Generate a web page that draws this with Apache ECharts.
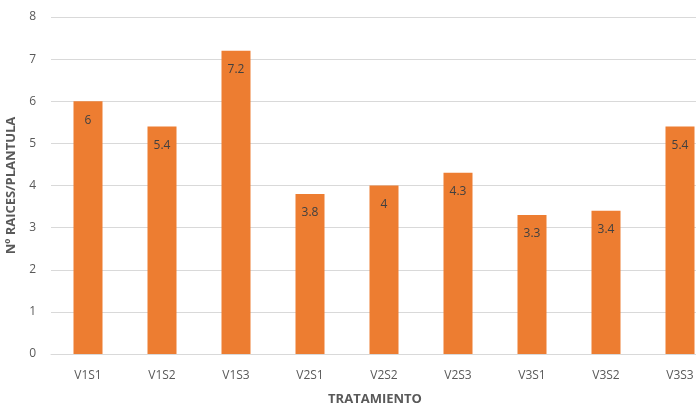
<!DOCTYPE html>
<html>
<head>
<meta charset="utf-8">
<script src="https://cdn.jsdelivr.net/npm/echarts@6/dist/echarts.min.js"></script>
<style>
  html, body { margin: 0; padding: 0; background: #fff; }
  #chart { width: 696px; height: 407px; }
</style>
</head>
<body>
<div id="chart"></div>
<script>
// Roots per seedling for each treatment
const categories = ['V1S1', 'V1S2', 'V1S3', 'V2S1', 'V2S2', 'V2S3', 'V3S1', 'V3S2', 'V3S3'];
const roots = [6, 5.4, 7.2, 3.8, 4, 4.3, 3.3, 3.4, 5.4];
const yTicks = [0, 1, 2, 3, 4, 5, 6, 7, 8];

const chart = echarts.init(document.getElementById('chart'));
chart.setOption({
  animation: false,
  backgroundColor: '#ffffff',
  textStyle: { fontFamily: 'Open Sans, Liberation Sans, sans-serif' },
  grid: { left: 51, top: 17, width: 666, height: 337, outerBoundsMode: 'none', containLabel: false },
  xAxis: {
    type: 'category',
    data: categories,
    name: 'TRATAMIENTO',
    nameLocation: 'middle',
    nameGap: 39,
    nameTextStyle: { color: '#595959', fontSize: 13, fontWeight: 'bold', padding: [0, 18, 0, 0] },
    axisLine: { lineStyle: { color: '#d9d9d9' } },
    axisTick: { show: false },
    axisLabel: { color: '#595959', fontSize: 12, margin: 16 }
  },
  yAxis: {
    type: 'value',
    min: yTicks[0],
    max: yTicks[yTicks.length - 1],
    interval: 1,
    name: 'Nº RAICES/PLANTULA',
    nameLocation: 'middle',
    nameGap: 29,
    nameRotate: 90,
    nameTextStyle: { color: '#595959', fontSize: 13, fontWeight: 'bold' },
    axisLine: { show: false },
    axisTick: { show: false },
    axisLabel: { color: '#595959', fontSize: 12, margin: 15 },
    splitLine: { lineStyle: { color: '#d9d9d9' } }
  },
  series: [{
    type: 'bar',
    data: roots,
    barWidth: 29,
    itemStyle: { color: '#ED7D31' },
    label: {
      show: true,
      position: 'insideTop',
      distance: 13,
      color: '#404040',
      fontSize: 12
    }
  }]
});
</script>
</body>
</html>
